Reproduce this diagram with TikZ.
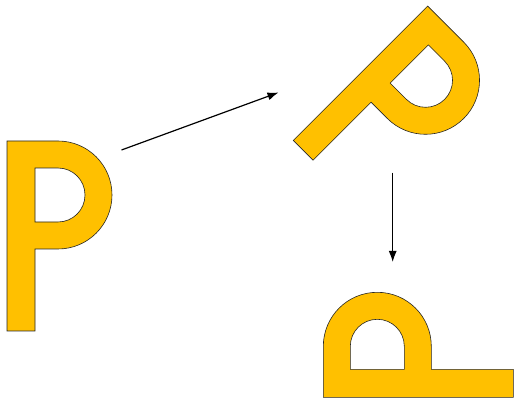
\documentclass[tikz,border=0pt]{standalone}
\usetikzlibrary{arrows.meta}
\definecolor{pgold}{HTML}{FFC000}
\tikzset{
  pshape/.style={fill=pgold, draw=black!85, line width=0.6pt, even odd rule},
  conn/.style={line width=1.2pt, -{Latex[length=11pt,width=8pt]}},
}
\newcommand{\pletter}{%
  (0,0) -- (0,190) -- (51,190) arc[start angle=90, end angle=-90, radius=54] -- (28,82) -- (28,0) -- cycle
  (28,163) -- (51,163) arc[start angle=90, end angle=-90, radius=27] -- (28,109) -- cycle}
\begin{document}
\begin{tikzpicture}[x=1pt,y=1pt]
\useasboundingbox (0,0) rectangle (514,399);
% left P, upright
\begin{scope}[shift={(7,68)}]
  \path[pshape] \pletter;
\end{scope}
% top right P, rotated 45 deg clockwise
\begin{scope}[shift={(293.3,258.6)}, rotate=-45]
  \path[pshape] \pletter;
\end{scope}
% bottom right P, rotated 90 deg counterclockwise
\begin{scope}[shift={(513.3,1.7)}, rotate=90]
  \path[pshape] \pletter;
\end{scope}
% connectors
\coordinate (a1) at (121.5,249);
\coordinate (a2) at (278.5,306.5);
\coordinate (b1) at (392.7,226.3);
\coordinate (b2) at (392.7,137);
\draw[conn] (a1) -- (a2);
\draw[conn] (b1) -- (b2);
\end{tikzpicture}
\end{document}
